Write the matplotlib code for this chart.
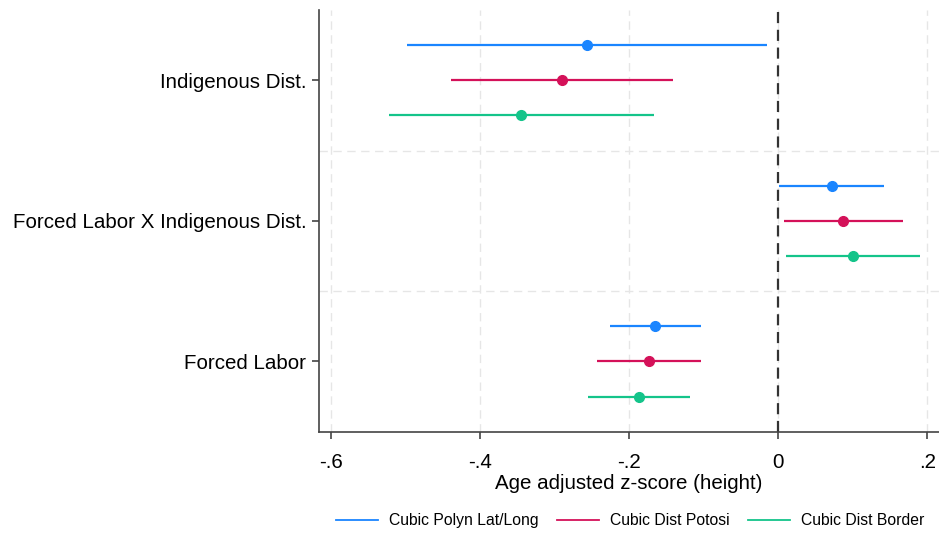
import numpy as np
import matplotlib
matplotlib.use('Agg')
import matplotlib.pyplot as plt
from matplotlib.lines import Line2D

plt.rcParams['font.family'] = ['Liberation Sans', 'DejaVu Sans']

# Coefficients and 95% CIs, one list per specification
terms = ['Forced Labor', 'Forced Labor X Indigenous Dist.', 'Indigenous Dist.']
series = ['Cubic Polyn Lat/Long', 'Cubic Dist Potosi', 'Cubic Dist Border']
colors = ['#1a85ff', '#d41159', '#14c48a']

coef_latlong = [-0.165, 0.072, -0.257]
lo_latlong = [-0.226, 0.001, -0.498]
hi_latlong = [-0.104, 0.142, -0.015]

coef_potosi = [-0.174, 0.087, -0.290]
lo_potosi = [-0.243, 0.007, -0.439]
hi_potosi = [-0.104, 0.167, -0.141]

coef_border = [-0.187, 0.100, -0.345]
lo_border = [-0.255, 0.010, -0.522]
hi_border = [-0.118, 0.190, -0.167]

coefs = [coef_latlong, coef_potosi, coef_border]
los = [lo_latlong, lo_potosi, lo_border]
his = [hi_latlong, hi_potosi, hi_border]

xticks = [-0.6, -0.4, -0.2, 0, 0.2]
xticklabels = ['-.6', '-.4', '-.2', '0', '.2']

fig = plt.figure(figsize=(9.39, 5.36), dpi=100)
ax = fig.add_axes([0.3397, 0.1946, 0.6603, 0.7867])

ypos = np.arange(1, len(terms) + 1)
offsets = [0.25, 0.0, -0.25]

# grid
for x in xticks:
    ax.axvline(x, color='#e6e6e6', lw=1.0, ls=(0, (6, 4)), zorder=0)
for y in [1.5, 2.5]:
    ax.axhline(y, color='#e6e6e6', lw=1.0, ls=(0, (6, 4)), zorder=0)

ax.axvline(0, color='#333333', lw=1.6, ls=(0, (5, 3)), zorder=1)

for i in range(len(series)):
    y = ypos + offsets[i]
    ax.hlines(y, los[i], his[i], color=colors[i], lw=1.6, zorder=2)
    ax.plot(coefs[i], y, 'o', color=colors[i], ms=7, zorder=3)

ax.set_xlim(-0.6165, 0.2157)
ax.set_ylim(0.5, 3.5)
ax.set_yticks(ypos)
ax.set_yticklabels(terms, fontsize=14.8)
ax.set_xticks(xticks)
ax.set_xticklabels(xticklabels, fontsize=14.8)
ax.set_xlabel('Age adjusted z-score (height)', fontsize=14.8, labelpad=2)

for s in ['top', 'right']:
    ax.spines[s].set_visible(False)
for s in ['left', 'bottom']:
    ax.spines[s].set_color('#444444')
    ax.spines[s].set_linewidth(1.2)
ax.tick_params(axis='both', length=5, width=1.2, color='#444444')
ax.tick_params(axis='x', pad=10)
ax.tick_params(axis='y', pad=4)

handles = [Line2D([0], [0], color=c, lw=1.3) for c in colors]
fig.legend(handles, series, loc='center', bbox_to_anchor=(0.671, 0.028), ncol=3,
           frameon=False, fontsize=11.3, handlelength=2.65, columnspacing=1.2,
           handletextpad=0.7)

fig.savefig('out.png', dpi=100)
